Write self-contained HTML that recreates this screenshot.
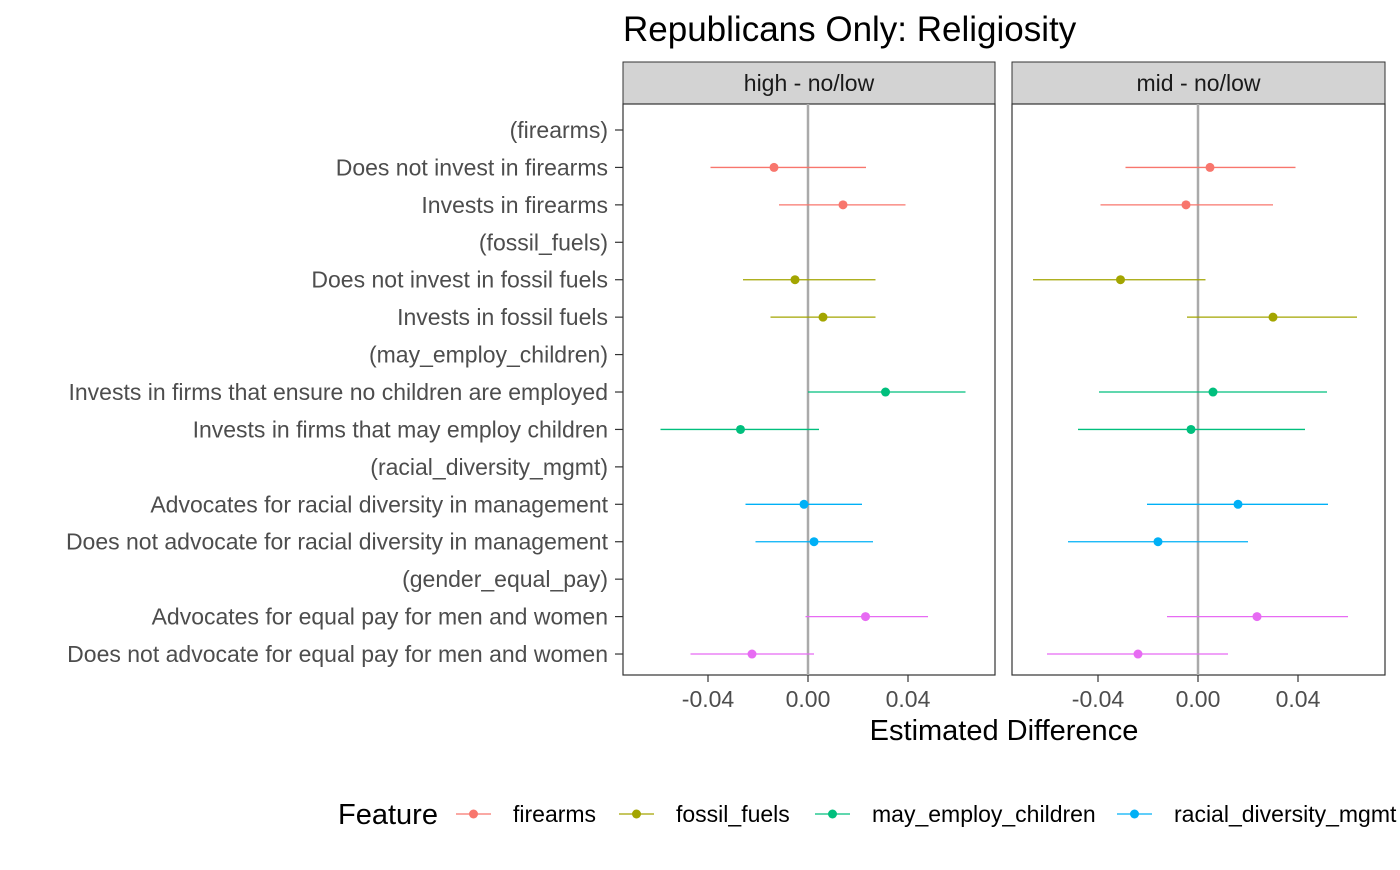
<!DOCTYPE html>
<html><head><meta charset="utf-8"><style>
body{margin:0;background:#fff;}
svg text{font-family:"Liberation Sans",Arial,sans-serif;}
</style></head><body>
<svg id="chart" width="1400" height="865" xmlns="http://www.w3.org/2000/svg">
<text x="623" y="41" font-size="35" fill="#000">Republicans Only: Religiosity</text>
<g id="g"></g>
</svg>
<script>
const labels=["(firearms)","Does not invest in firearms","Invests in firearms","(fossil_fuels)","Does not invest in fossil fuels","Invests in fossil fuels","(may_employ_children)","Invests in firms that ensure no children are employed","Invests in firms that may employ children","(racial_diversity_mgmt)","Advocates for racial diversity in management","Does not advocate for racial diversity in management","(gender_equal_pay)","Advocates for equal pay for men and women","Does not advocate for equal pay for men and women"];
const groups=[0,0,0,1,1,1,2,2,2,3,3,3,4,4,4];
const colors=["#F8766D","#A3A500","#00BF7D","#00B0F6","#E76BF3"];
const featureNames=["firearms","fossil_fuels","may_employ_children","racial_diversity_mgmt"];
const panelNames=["high - no/low","mid - no/low"];
const estHigh=[null,-0.0136,0.014,null,-0.0052,0.006,null,0.031,-0.027,null,-0.0016,0.0024,null,0.023,-0.0224];
const loHigh=[null,-0.039,-0.0116,null,-0.026,-0.015,null,0.0,-0.059,null,-0.025,-0.021,null,-0.001,-0.047];
const hiHigh=[null,0.0232,0.039,null,0.027,0.027,null,0.063,0.0044,null,0.0216,0.026,null,0.048,0.0024];
const estMid=[null,0.0048,-0.0048,null,-0.031,0.030,null,0.006,-0.0028,null,0.016,-0.016,null,0.0236,-0.024];
const loMid=[null,-0.029,-0.039,null,-0.066,-0.0044,null,-0.0396,-0.048,null,-0.0204,-0.052,null,-0.0124,-0.0604];
const hiMid=[null,0.039,0.030,null,0.003,0.0636,null,0.0516,0.0428,null,0.052,0.020,null,0.06,0.012];
const ticks=[-0.04,0,0.04];
const tickLabels=["-0.04","0.00","0.04"];
const NS="http://www.w3.org/2000/svg",g=document.getElementById('g');
function mk(t,a,txt){const e=document.createElementNS(NS,t);for(const k in a)e.setAttribute(k,a[k]);if(txt!==undefined)e.textContent=txt;g.appendChild(e);return e;}
const topY=104,botY=675;
function rowY(i){return 130+i*37.43;}
const panels=[{x0:623,x1:995,z:808,est:estHigh,lo:loHigh,hi:hiHigh},{x0:1012,x1:1385,z:1198,est:estMid,lo:loMid,hi:hiMid}];
const scale=2500;
panels.forEach((p,pi)=>{
 const X=v=>p.z+v*scale;
 let e=mk('rect',{x:p.x0,y:62,width:p.x1-p.x0,height:42,fill:'#d3d3d3',stroke:'#333','stroke-width':1});
 
 
 e=mk('text',{x:(p.x0+p.x1)/2,y:91,'font-size':23,fill:'#1a1a1a','text-anchor':'middle'},panelNames[pi]);
 
 
 e=mk('rect',{x:p.x0,y:topY,width:p.x1-p.x0,height:botY-topY,fill:'#fff',stroke:'#333','stroke-width':1.2});
 
 
 e=mk('line',{x1:X(0),x2:X(0),y1:topY,y2:botY,stroke:'#aaa','stroke-width':2.5});
 
 
 ticks.forEach((t,ti)=>{
  e=mk('line',{x1:X(t),x2:X(t),y1:botY,y2:botY+7,stroke:'#333','stroke-width':1.2});
  
  
  e=mk('text',{x:X(t),y:botY+32,'font-size':23,fill:'#4d4d4d','text-anchor':'middle'},tickLabels[ti]);
  
  
 });
 labels.forEach((l,i)=>{
  if(p.est[i]===null)return;
  const c=colors[groups[i]];
  e=mk('line',{x1:X(p.lo[i]),x2:X(p.hi[i]),y1:rowY(i),y2:rowY(i),stroke:c,'stroke-width':1.3});
  
  
  e=mk('circle',{cx:X(p.est[i]),cy:rowY(i),r:4.5,fill:c});
  
  
 });
});
labels.forEach((l,i)=>{
 let e=mk('text',{x:608,y:rowY(i)+8,'font-size':23,fill:'#4d4d4d','text-anchor':'end'},l);
 
 
 e=mk('line',{x1:615,x2:623,y1:rowY(i),y2:rowY(i),stroke:'#333','stroke-width':1.2});
 
 
});
let e0=mk('text',{x:1004,y:740,'font-size':29,fill:'#000','text-anchor':'middle'},'Estimated Difference');


e0=mk('text',{x:338,y:824,'font-size':29,fill:'#000'},'Feature');


const lx=[456,619,815,1117];
featureNames.forEach((f,i)=>{
 let e=mk('line',{x1:lx[i],x2:lx[i]+35,y1:814,y2:814,stroke:colors[i],'stroke-width':1.3});
 
 
 e=mk('circle',{cx:lx[i]+17.5,cy:814,r:4.5,fill:colors[i]});
 
 
 e=mk('text',{x:lx[i]+57,y:822,'font-size':23,fill:'#000'},f);
 
 
});
</script>
</body></html>
